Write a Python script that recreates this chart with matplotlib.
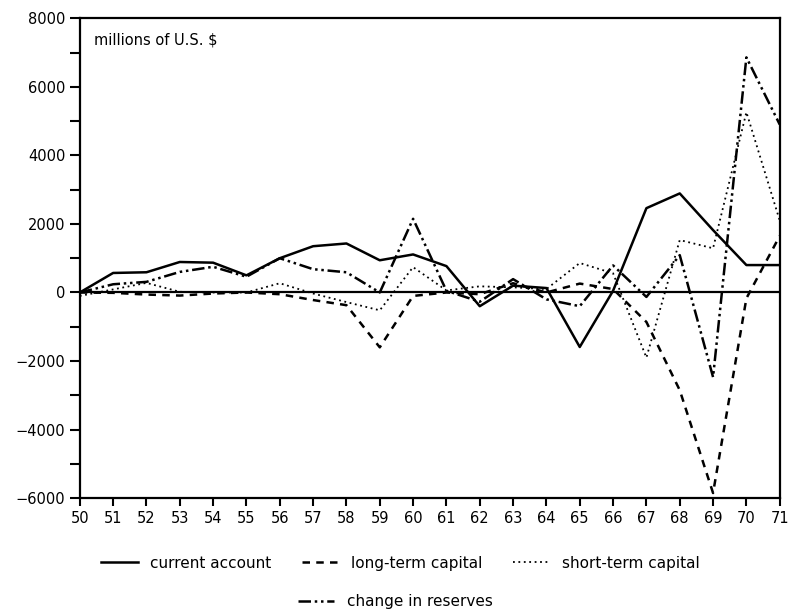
import numpy as np
import matplotlib
matplotlib.use("Agg")
import matplotlib.pyplot as plt

years = list(range(50, 72))

# balance of payments components, millions of U.S. $
current_account = [0, 570, 590, 890, 870, 500, 1000, 1350, 1430, 940, 1110,
                   770, -400, 200, 130, -1590, 50, 2460, 2890, 1820, 800, 800]
long_term_capital = [0, -10, -60, -90, -30, 0, -50, -220, -370, -1600, -100,
                     0, -50, 270, 0, 260, 100, -860, -2850, -5850, -170, 1650]
short_term_capital = [-100, 90, 280, 20, 0, 0, 270, -30, -280, -520, 740,
                      60, 180, 150, 100, 860, 560, -1900, 1530, 1290, 5260, 2100]
change_in_reserves = [0, 240, 310, 600, 750, 460, 1000, 680, 590, 0, 2150,
                      50, -270, 390, -200, -400, 790, -130, 1090, -2470, 6860, 4900]

plt.rcParams['font.family'] = ['DejaVu Sans']

fig = plt.figure(figsize=(7.9, 6.09), dpi=100)
ax = fig.add_axes([0.101, 0.182, 0.886, 0.788])

h1, = ax.plot(years, current_account, color='black', lw=1.8, linestyle='-')
h2, = ax.plot(years, long_term_capital, color='black', lw=1.8, linestyle=(0, (3, 2.5)))
h3, = ax.plot(years, short_term_capital, color='black', lw=1.3, linestyle=(0, (1, 2)))
h4, = ax.plot(years, change_in_reserves, color='black', lw=1.8,
              linestyle=(0, (5, 1.5, 1, 1.5, 1, 1.5)))
ax.axhline(0, color='black', lw=1.6)

ax.set_xlim(50, 71)
ax.set_ylim(-6000, 8000)
ax.set_xticks(years)
ax.set_xticklabels([str(y) for y in years])
ax.set_yticks(np.arange(-6000, 8001, 2000))
ax.set_yticks(np.arange(-5000, 8000, 2000), minor=True)
ax.tick_params(axis='both', which='both', direction='out', width=1.5, labelsize=10.5)
ax.tick_params(axis='y', which='both', length=7)
ax.tick_params(axis='x', length=6)
for s in ax.spines.values():
    s.set_linewidth(1.6)

ax.text(0.021, 0.954, 'millions of U.S. $', transform=ax.transAxes, fontsize=10.5,
        va='center', ha='left')

fig.legend([h1, h2, h3], ['current account', 'long-term capital', 'short-term capital'],
           loc='center', bbox_to_anchor=(0.507, 0.075), ncol=3, frameon=False,
           fontsize=11, handlelength=2.4, columnspacing=2.0)
fig.legend([h4], ['change in reserves'], loc='center', bbox_to_anchor=(0.5, 0.012),
           frameon=False, fontsize=11, handlelength=2.4)

fig.savefig('out.png', dpi=100)
